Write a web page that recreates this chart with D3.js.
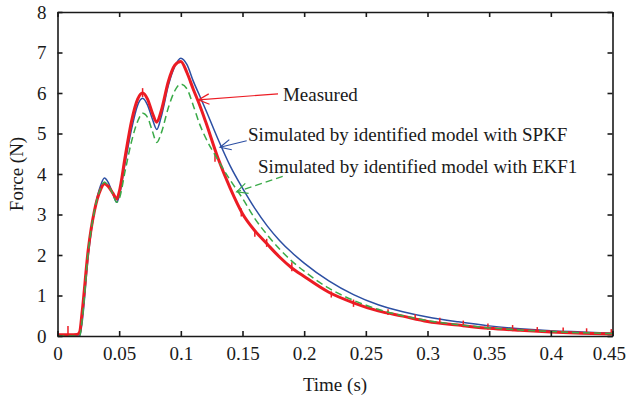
<!DOCTYPE html>
<html>
<head>
<meta charset="utf-8">
<script src="https://cdn.jsdelivr.net/npm/d3@7"></script>
<style>
  body { margin: 0; background: #fff; }
  svg { display: block; font-family: "Liberation Serif", "DejaVu Serif", serif; }
  .axis path, .axis line { stroke: #1a1a1a; stroke-width: 1.6; }
  .axis text { font-size: 19px; fill: #1a1a1a; font-family: "Liberation Serif", serif; }
</style>
</head>
<body>
<div id="chart"></div>
<script>
// time samples (s)
const time = [0, 0.01, 0.016, 0.018, 0.02, 0.025, 0.03, 0.035, 0.038, 0.041, 0.045, 0.048,
  0.05, 0.055, 0.06, 0.065, 0.069, 0.073, 0.077, 0.0805, 0.084, 0.09, 0.095, 0.1,
  0.105, 0.11, 0.115, 0.12, 0.13, 0.14, 0.15, 0.16, 0.17, 0.18, 0.19, 0.2,
  0.22, 0.24, 0.26, 0.28, 0.3, 0.325, 0.35, 0.375, 0.4, 0.425, 0.45];

// force (N)
const measured = [0.03, 0.03, 0.04, 0.1, 0.6, 2.15, 3.1, 3.62, 3.76, 3.7, 3.52, 3.38,
  3.55, 4.45, 5.3, 5.85, 6.0, 5.85, 5.5, 5.28, 5.55, 6.3, 6.68, 6.78,
  6.5, 6.1, 5.72, 5.3, 4.4, 3.65, 3.02, 2.6, 2.27, 1.95, 1.68, 1.47,
  1.08, 0.82, 0.62, 0.49, 0.36, 0.27, 0.19, 0.14, 0.1, 0.07, 0.05];

const spkf = [0, 0, 0, 0, 0.35, 2.0, 3.1, 3.72, 3.9, 3.8, 3.5, 3.3,
  3.45, 4.3, 5.1, 5.7, 5.87, 5.7, 5.35, 5.1, 5.4, 6.2, 6.65, 6.86,
  6.7, 6.3, 5.95, 5.6, 4.87, 4.2, 3.65, 3.15, 2.72, 2.36, 2.06, 1.8,
  1.36, 1.02, 0.77, 0.6, 0.47, 0.35, 0.25, 0.18, 0.13, 0.1, 0.07];

const ekf1 = [0, 0, 0, 0, 0.4, 2.1, 3.1, 3.65, 3.8, 3.72, 3.5, 3.3,
  3.38, 4.1, 4.8, 5.3, 5.5, 5.4, 5.05, 4.78, 5.0, 5.65, 6.05, 6.22,
  6.1, 5.7, 5.25, 4.9, 4.35, 3.85, 3.4, 2.9, 2.5, 2.15, 1.85, 1.6,
  1.18, 0.88, 0.66, 0.5, 0.38, 0.28, 0.2, 0.15, 0.11, 0.08, 0.06];

// noise spikes on the measured trace: [time, low, high]
const spikes = [[0.0085, 0.0, 0.25], [0.069, 5.9, 6.12], [0.1277, 4.3, 4.5], [0.149, 2.95, 3.15],
  [0.16, 2.45, 2.62], [0.1696, 2.2, 2.4], [0.19, 1.6, 1.82], [0.222, 0.95, 1.1],
  [0.24, 0.72, 0.9], [0.268, 0.52, 0.66], [0.29, 0.4, 0.54], [0.31, 0.3, 0.45],
  [0.329, 0.22, 0.38], [0.349, 0.16, 0.31], [0.369, 0.12, 0.27], [0.389, 0.1, 0.22],
  [0.41, 0.07, 0.21], [0.429, 0.05, 0.19], [0.449, 0.03, 0.17]];

const xTicks = [0, 0.05, 0.1, 0.15, 0.2, 0.25, 0.3, 0.35, 0.4, 0.45];
const yTicks = [0, 1, 2, 3, 4, 5, 6, 7, 8];

// annotation labels: [text, time, force]
const labels = [["Measured", 0.1828, 5.8], ["Simulated by identified model with SPKF", 0.1545, 4.81],
  ["Simulated by identified model with EKF1", 0.1626, 4.02]];
// arrows: [fromTime, fromForce, tipTime, tipForce]
const arrows = [[0.1788, 5.98, 0.1142, 5.83], [0.1534, 4.82, 0.1318, 4.66], [0.1826, 3.94, 0.1453, 3.56]];

const colors = { measured: "#ec1c24", spkf: "#2c4fa3", ekf1: "#3aaa48" };

(function chart() {
  let width = 626,
      height = 400,
      margin = ({ top: 12, right: 13.5, bottom: 64, left: 57.5 });

  const svg = d3.select("#chart")
    .append("svg")
    .attr("width", width)
    .attr("height", height);

  let x = d3.scaleLinear()
    .domain([0, 0.45])
    .range([margin.left, width - margin.right]);

  let y = d3.scaleLinear()
    .domain([0, 8])
    .range([height - margin.bottom, margin.top]);

  const line = d3.line()
    .x(d => x(d[0]))
    .y(d => y(d[1]))
    .curve(d3.curveMonotoneX);

  // simulated curves
  svg.append("path")
    .datum(time.map((t, i) => [t, spkf[i]]))
    .attr("fill", "none")
    .attr("stroke", colors.spkf)
    .attr("stroke-width", 1.5)
    .attr("d", line);

  // measured trace
  svg.append("path")
    .datum(time.map((t, i) => [t, measured[i]]))
    .attr("fill", "none")
    .attr("stroke", colors.measured)
    .attr("stroke-width", 3)
    .attr("stroke-linejoin", "round")
    .attr("d", line);

  svg.append("g")
    .selectAll("line")
    .data(spikes)
    .join("line")
    .attr("x1", d => x(d[0]))
    .attr("x2", d => x(d[0]))
    .attr("y1", d => y(d[1]))
    .attr("y2", d => y(d[2]))
    .attr("stroke", colors.measured)
    .attr("stroke-width", 1.5);

  svg.append("path")
    .datum(time.map((t, i) => [t, ekf1[i]]))
    .attr("fill", "none")
    .attr("stroke", colors.ekf1)
    .attr("stroke-width", 1.5)
    .attr("stroke-dasharray", "7,4")
    .attr("d", line);

  // axes box
  const xAxis = svg.append("g")
    .attr("class", "axis")
    .attr("transform", `translate(0,${y(0)})`)
    .call(d3.axisBottom(x).tickValues(xTicks).tickFormat(d => String(d))
      .tickSizeInner(-5).tickSizeOuter(0).tickPadding(11));

  // keep the last label inside the picture
  xAxis.selectAll(".tick text")
    .filter(d => d === 0.45)
    .attr("text-anchor", "end")
    .attr("dx", 13);

  svg.append("g")
    .attr("class", "axis")
    .attr("transform", `translate(${x(0)},0)`)
    .call(d3.axisLeft(y).tickValues(yTicks).tickFormat(d => String(d))
      .tickSizeInner(-5).tickSizeOuter(0).tickPadding(11));

  svg.append("g")
    .attr("class", "axis")
    .attr("transform", `translate(0,${y(8)})`)
    .call(d3.axisTop(x).tickValues(xTicks).tickFormat("")
      .tickSizeInner(-5).tickSizeOuter(0));

  svg.append("g")
    .attr("class", "axis")
    .attr("transform", `translate(${x(0.45)},0)`)
    .call(d3.axisRight(y).tickValues(yTicks).tickFormat("")
      .tickSizeInner(-5).tickSizeOuter(0));

  // axis titles
  svg.append("text")
    .attr("x", (x(0) + x(0.45)) / 2)
    .attr("y", 391)
    .attr("text-anchor", "middle")
    .attr("font-size", 19)
    .attr("fill", "#1a1a1a")
    .text("Time (s)");

  svg.append("text")
    .attr("transform", `translate(23,${(y(0) + y(8)) / 2}) rotate(-90)`)
    .attr("text-anchor", "middle")
    .attr("font-size", 19)
    .attr("fill", "#1a1a1a")
    .text("Force (N)");

  // annotations
  svg.append("g")
    .selectAll("text")
    .data(labels)
    .join("text")
    .attr("x", d => x(d[1]))
    .attr("y", d => y(d[2]))
    .attr("font-size", 19)
    .attr("fill", "#1a1a1a")
    .text(d => d[0]);

  const arrowColors = [colors.measured, colors.spkf, colors.ekf1];
  arrows.forEach((a, i) => {
    const x0 = x(a[0]), y0 = y(a[1]), x1 = x(a[2]), y1 = y(a[3]);
    const ang = Math.atan2(y0 - y1, x0 - x1);
    const len = 12, spread = 0.45;
    const g = svg.append("g")
      .attr("fill", "none")
      .attr("stroke", arrowColors[i])
      .attr("stroke-width", 1.2);
    g.append("line")
      .attr("x1", x0).attr("y1", y0).attr("x2", x1).attr("y2", y1)
      .attr("stroke-dasharray", i === 2 ? "7,4" : null);
    g.append("path")
      .attr("d", `M${x1 + len * Math.cos(ang + spread)},${y1 + len * Math.sin(ang + spread)}L${x1},${y1}L${x1 + len * Math.cos(ang - spread)},${y1 + len * Math.sin(ang - spread)}`);
  });
})();
</script>
</body>
</html>
